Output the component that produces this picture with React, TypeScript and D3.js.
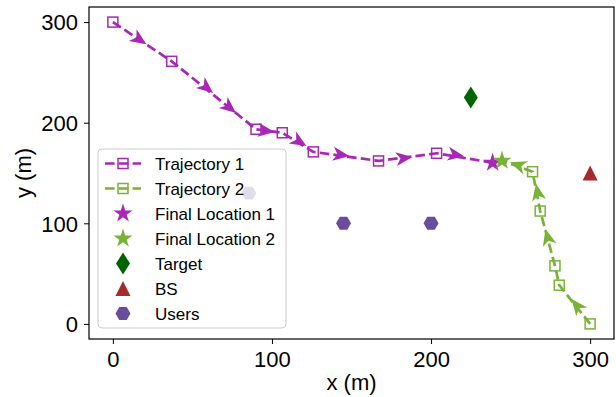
import React, { useEffect, useRef } from "react";
import * as d3 from "d3";

// trajectory waypoints (m)
const traj1X = [0, 37, 90, 106.5, 126, 167, 203.5, 238.7];
const traj1Y = [300, 261, 193.5, 190, 171, 162, 169.6, 160.2];
const traj2X = [300, 280.6, 277.9, 268.6, 263.8, 244.6];
const traj2Y = [0, 38.5, 57.7, 112.2, 151.3, 162.2];

// arrow heads along the paths
const arrows1X = [16.9, 59.1, 73.5, 96.7, 117.4, 143.7, 183.3, 215.9];
const arrows1Y = [282.4, 234.6, 214.7, 191.8, 180.9, 168, 164.9, 167.9];
const arrows2X = [291.4, 273.2, 266.9, 254.4];
const arrows2Y = [18.6, 86.6, 131.4, 158];

const final1 = [238.7, 160.2];
const final2 = [244.6, 162.2];
const target = [225, 225];
const bs = [300, 150];
const usersX = [145, 200, 85.5];
const usersY = [100, 100, 130];

const xTicks = [0, 100, 200, 300];
const yTicks = [0, 100, 200, 300];

const legendLabels = ["Trajectory 1", "Trajectory 2", "Final Location 1", "Final Location 2", "Target", "BS", "Users"];

const PURPLE = "#a827b5";
const GREEN = "#78b337";
const DARKGREEN = "#006400";
const BROWN = "#a52a2a";
const USERS = "#6a4c9c";
const FONT = "'Liberation Sans', Arial, sans-serif";

const starPath = (r: number) => {
    const pts: [number, number][] = [];
    for (let i = 0; i < 10; i++) {
        const rr = i % 2 === 0 ? r : r * 0.382;
        const a = -Math.PI / 2 + (i * Math.PI) / 5;
        pts.push([rr * Math.cos(a), rr * Math.sin(a)]);
    }
    return "M" + pts.map(p => p.join(",")).join("L") + "Z";
};
const hexPath = (r: number) => {
    const pts: [number, number][] = d3.range(6).map(i => [r * Math.cos((i * Math.PI) / 3), r * Math.sin((i * Math.PI) / 3)]);
    return "M" + pts.map(p => p.join(",")).join("L") + "Z";
};
const diamondPath = "M0,-11L7,0L0,11L-7,0Z";
const trianglePath = "M0,-7.5L7.5,7.5L-7.5,7.5Z";
const arrowPath = "M8,0L-8.5,-7L-4,0L-8.5,7Z";

const App = () => {
    const ref = useRef<SVGSVGElement>(null);
    const width = 616;
    const height = 397;

    useEffect(() => {
        document.body.style.margin = "0";
        const svg = d3.select(ref.current);
        svg.selectAll("*").remove();

        const x = d3.scaleLinear().domain([-15, 315]).range([89, 614]);
        const y = d3.scaleLinear().domain([-15, 315]).range([339, 7]);

        const plot = svg.append("g");

        const line = d3.line<[number, number]>().x(d => x(d[0])).y(d => y(d[1]));

        const drawTraj = (xs: number[], ys: number[], ax: number[], ay: number[], color: string, markerCount: number) => {
            const pts: [number, number][] = xs.map((v, i) => [v, ys[i]]);
            plot.append("path")
                .attr("d", line(pts))
                .attr("fill", "none")
                .attr("stroke", color)
                .attr("stroke-width", 2.7)
                .attr("stroke-dasharray", "9.6,4.2");
            plot.selectAll(null)
                .data(pts.slice(0, markerCount))
                .enter()
                .append("rect")
                .attr("x", d => x(d[0]) - 5)
                .attr("y", d => y(d[1]) - 5)
                .attr("width", 10)
                .attr("height", 10)
                .attr("fill", "none")
                .attr("stroke", color)
                .attr("stroke-width", 1.5);

            // arrows: take direction from nearest segment
            const px = pts.map(p => [x(p[0]), y(p[1])]);
            ax.forEach((v, k) => {
                const ux = x(v);
                const uy = y(ay[k]);
                let best = 0;
                let bestD = Infinity;
                for (let i = 0; i < px.length - 1; i++) {
                    const [x1, y1] = px[i];
                    const [x2, y2] = px[i + 1];
                    const dx = x2 - x1;
                    const dy = y2 - y1;
                    let t = ((ux - x1) * dx + (uy - y1) * dy) / (dx * dx + dy * dy);
                    t = Math.max(0, Math.min(1, t));
                    const dd = Math.hypot(x1 + t * dx - ux, y1 + t * dy - uy);
                    if (dd < bestD) {
                        bestD = dd;
                        best = i;
                    }
                }
                const ang = Math.atan2(px[best + 1][1] - px[best][1], px[best + 1][0] - px[best][0]) * 180 / Math.PI;
                plot.append("path")
                    .attr("d", arrowPath)
                    .attr("fill", color)
                    .attr("transform", `translate(${ux},${uy}) rotate(${ang})`);
            });
        };

        drawTraj(traj1X, traj1Y, arrows1X, arrows1Y, PURPLE, traj1X.length - 1);
        drawTraj(traj2X, traj2Y, arrows2X, arrows2Y, GREEN, traj2X.length - 1);

        const marker = (d: string, px: number, py: number, fill: string) =>
            plot.append("path").attr("d", d).attr("fill", fill)
                .attr("transform", `translate(${px},${py})`);

        marker(starPath(10), x(final1[0]), y(final1[1]), PURPLE);
        marker(starPath(10), x(final2[0]), y(final2[1]), GREEN);
        marker(diamondPath, x(target[0]), y(target[1]), DARKGREEN);
        marker(trianglePath, x(bs[0]), y(bs[1]), BROWN);
        usersX.forEach((v, i) => marker(hexPath(7.5), x(v), y(usersY[i]), USERS));

        // frame
        svg.append("rect")
            .attr("x", 89).attr("y", 7)
            .attr("width", 614 - 89).attr("height", 339 - 7)
            .attr("fill", "none").attr("stroke", "#000").attr("stroke-width", 1.2);

        // axes
        const xAxis = svg.append("g").attr("transform", "translate(0,339)")
            .call(d3.axisBottom(x).tickValues(xTicks).tickSize(5).tickSizeOuter(0).tickPadding(7));
        const yAxis = svg.append("g").attr("transform", "translate(89,0)")
            .call(d3.axisLeft(y).tickValues(yTicks).tickSize(5).tickSizeOuter(0).tickPadding(6));
        [xAxis, yAxis].forEach(a => {
            a.select(".domain").remove();
            a.selectAll("line").attr("stroke", "#000").attr("stroke-width", 1);
            a.selectAll("text").attr("font-size", 22).attr("font-family", FONT).attr("fill", "#000");
        });
        yAxis.selectAll("text").attr("dy", "0.35em");

        svg.append("text")
            .attr("x", (89 + 614) / 2).attr("y", 390)
            .attr("text-anchor", "middle")
            .attr("font-size", 22).attr("font-family", FONT)
            .text("x (m)");
        svg.append("text")
            .attr("transform", "translate(31,173) rotate(-90)")
            .attr("text-anchor", "middle")
            .attr("font-size", 22).attr("font-family", FONT)
            .text("y (m)");

        // legend
        const legend = svg.append("g");
        legend.append("rect")
            .attr("x", 98).attr("y", 149)
            .attr("width", 188).attr("height", 179)
            .attr("rx", 4)
            .attr("fill", "#fff").attr("fill-opacity", 0.8)
            .attr("stroke", "#cccccc").attr("stroke-width", 1);

        const items = legend.selectAll(".legend")
            .data(legendLabels)
            .enter()
            .append("g")
            .attr("class", "legend")
            .attr("transform", (d, i) => `translate(0,${163.5 + i * 25})`);

        items.append("text")
            .attr("x", 155).attr("y", 6)
            .attr("font-size", 17).attr("font-family", FONT)
            .text(d => d);

        items.each(function (d, i) {
            const g = d3.select(this);
            if (i < 2) {
                const c = i === 0 ? PURPLE : GREEN;
                g.append("line")
                    .attr("x1", 105).attr("x2", 141).attr("y1", 0).attr("y2", 0)
                    .attr("stroke", c).attr("stroke-width", 2.7)
                    .attr("stroke-dasharray", "9.6,4.2");
                g.append("rect")
                    .attr("x", 118).attr("y", -5).attr("width", 10).attr("height", 10)
                    .attr("fill", "none").attr("stroke", c).attr("stroke-width", 1.5);
            } else {
                const shapes = [starPath(10), starPath(10), diamondPath, trianglePath, hexPath(7.5)];
                const fills = [PURPLE, GREEN, DARKGREEN, BROWN, USERS];
                g.append("path")
                    .attr("d", shapes[i - 2])
                    .attr("fill", fills[i - 2])
                    .attr("transform", "translate(123,0)");
            }
        });
    }, []);

    return <svg ref={ref} width={width} height={height} style={{ display: "block" }} />;
};

export default App;
